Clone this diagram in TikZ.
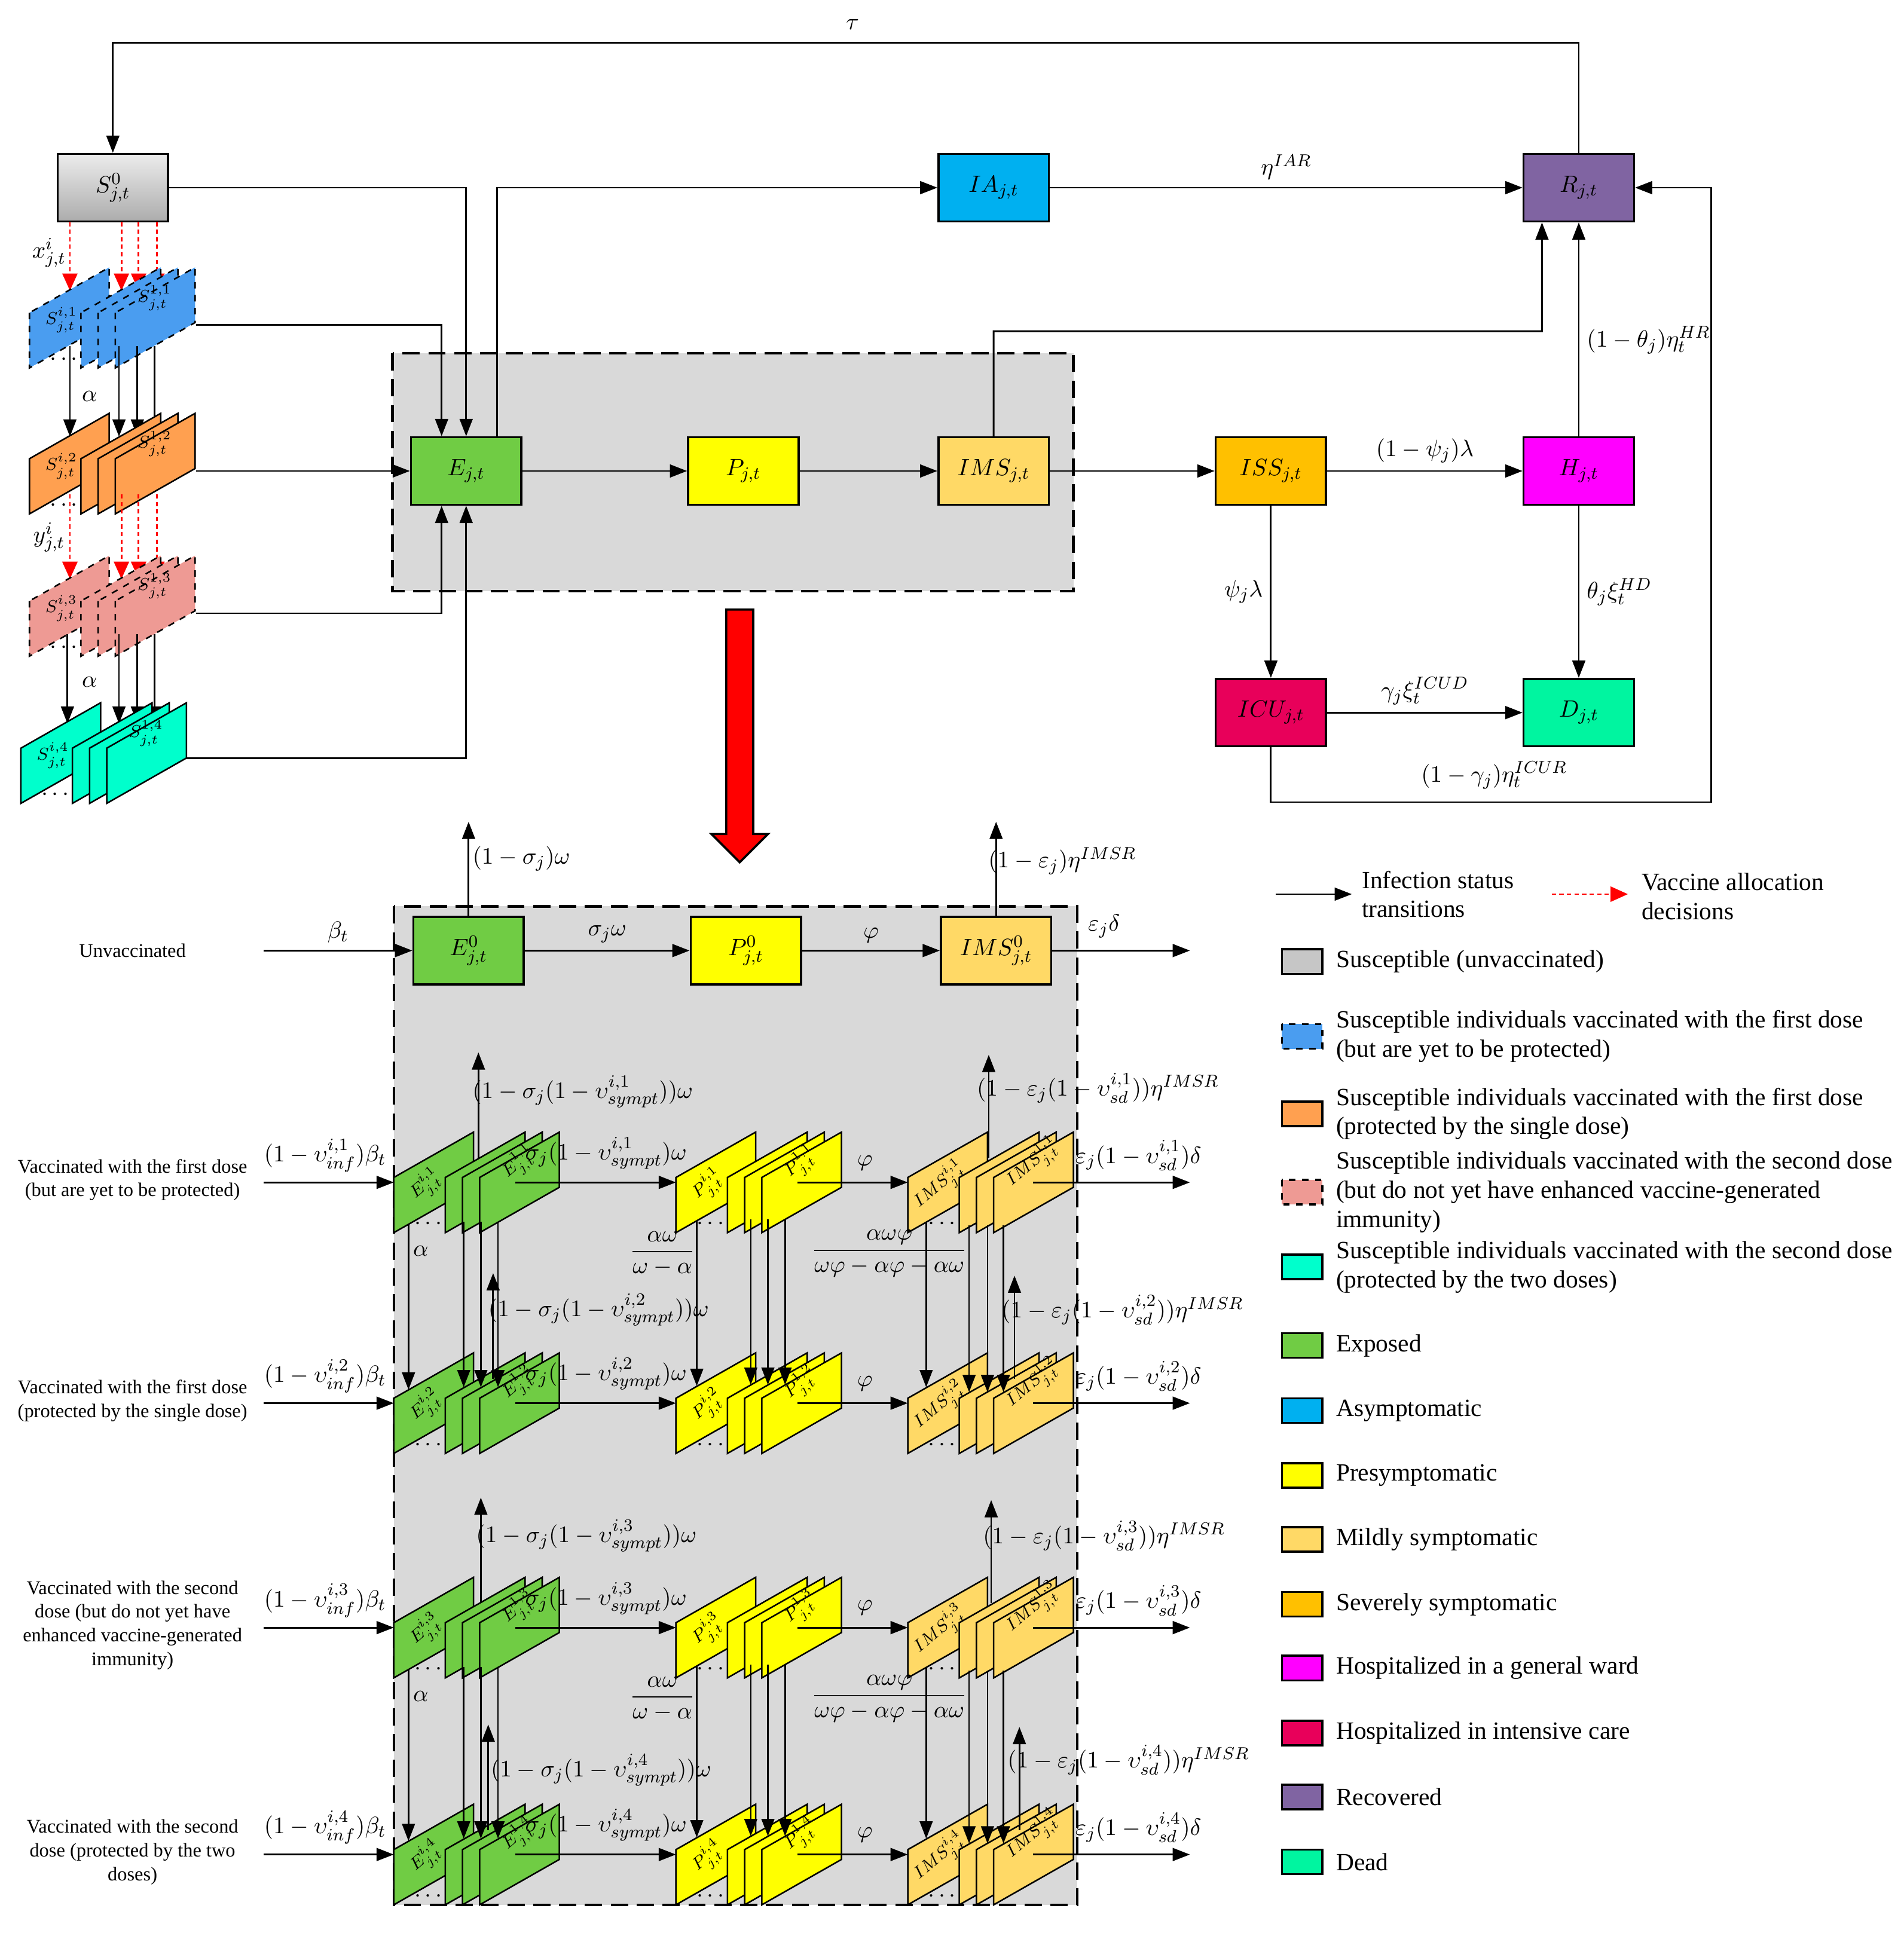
\documentclass[tikz,border=0pt]{standalone}
\usepackage{fontspec}
\setmainfont{Liberation Serif}
\usetikzlibrary{arrows.meta}
\definecolor{cG}{HTML}{70CC44}
\definecolor{cB}{HTML}{4A9DF0}
\definecolor{cO}{HTML}{FFA050}
\definecolor{cPk}{HTML}{EE9A94}
\definecolor{cC}{HTML}{00FFCC}
\definecolor{cY}{HTML}{FFFF00}
\definecolor{cM}{HTML}{FFD966}
\definecolor{cS}{HTML}{FFC000}
\definecolor{cIA}{HTML}{00B0F0}
\definecolor{cR}{HTML}{8064A2}
\definecolor{cH}{HTML}{FF00FF}
\definecolor{cICU}{HTML}{E8005A}
\definecolor{cD}{HTML}{00F5A0}
\definecolor{cBg}{HTML}{D9D9D9}
\tikzset{
 box/.style={draw,line width=1pt,minimum width=1.8cm,minimum height=1.1cm,inner sep=1pt},
 arr/.style={line width=0.8pt,-{Triangle[length=8pt,width=6pt]}},
 vac/.style={red,line width=0.8pt,dash pattern=on 2pt off 1.5pt,-{Triangle[length=8pt,width=7pt]}},
 region/.style={fill=cBg,line width=1.2pt,dash pattern=on 8pt off 4pt},
 sw/.style={draw,line width=1pt},
 lg/.style={anchor=west,align=left,font=\fontsize{11.5}{13.5}\selectfont},
 rl/.style={align=center,font=\fontsize{9}{11}\selectfont},
 pl/.style={line width=0.7pt},
 sl/.style={inner sep=0pt,font=\fontsize{8.5}{10}\selectfont}
}
% stack of parallelograms: x0, yc, fill, style, first label, last label, rotate
\newcommand{\pstk}[7]{%
 \draw[pl,#4,fill=#3] (#1,#2-2) -- (#1,#2+43) -- (#1+65,#2+6) -- (#1+65,#2-39) -- cycle;
 \node[sl,rotate=#7] at (#1+26,#2+4) {#5};
 \foreach \o in {42,56,70}{\draw[pl,#4,fill=#3] (#1+\o,#2-2) -- (#1+\o,#2+43) -- (#1+\o+65,#2+6) -- (#1+\o+65,#2-39) -- cycle;}
 \node[sl,rotate=#7] at (#1+102,#2-14) {#6};
 \node[inner sep=0pt] at (#1+28,#2+36) {$\cdots$};
}
\begin{document}
\begin{tikzpicture}[x=0.02cm,y=-0.02cm,font=\fontsize{11}{13}\selectfont]
\useasboundingbox (0,0) rectangle (1552,1576);
% ---------- top part ----------
\draw[region] (320,288) rectangle (875,482);
\node[box,top color=gray!15,bottom color=gray!65] (S0) at (92,153) {$S^{0}_{j,t}$};
\node[box,fill=cIA] (IA) at (810,153) {$IA_{j,t}$};
\node[box,fill=cR] (R) at (1287,153) {$R_{j,t}$};
\node[box,fill=cG] (E) at (380,384) {$E_{j,t}$};
\node[box,fill=cY] (P) at (606,384) {$P_{j,t}$};
\node[box,fill=cM] (IMS) at (810,384) {$IMS_{j,t}$};
\node[box,fill=cS] (ISS) at (1036,384) {$ISS_{j,t}$};
\node[box,fill=cH] (H) at (1287,384) {$H_{j,t}$};
\node[box,fill=cICU] (ICU) at (1036,581) {$ICU_{j,t}$};
\node[box,fill=cD] (D) at (1287,581) {$D_{j,t}$};

\draw[arr] (R.north) -- (1287,35) -- (92,35) -- (S0.north);
\node at (695,20) {$\tau$};
\draw[arr] (S0.east) -| (E.north);
\draw[arr] ([xshift=0.5cm]E.north) |- (IA.west);
\draw[arr] (IA) -- node[above,pos=0.5]{$\eta^{IAR}$} (R);
\draw[arr] (IMS.north) -- (810,270) -- (1257,270) -- ([xshift=-0.6cm]R.south);
\draw[arr] (H) -- node[right,pos=0.45]{$(1-\theta_j)\eta_t^{HR}$} (R);
\draw[arr] (ICU.south) -- (1036,654) -- (1395,654) -- (1395,153) -- (R.east);
\node at (1218,632) {$(1-\gamma_j)\eta_t^{ICUR}$};
\draw[arr] (E) -- (P);
\draw[arr] (P) -- (IMS);
\draw[arr] (IMS) -- (ISS);
\draw[arr] (ISS) -- node[above]{$(1-\psi_j)\lambda$} (H);
\draw[arr] (ISS) -- node[left]{$\psi_j\lambda$} (ICU);
\draw[arr] (H) -- node[right]{$\theta_j\xi_t^{HD}$} (D);
\draw[arr] (ICU) -- node[above]{$\gamma_j\xi_t^{ICUD}$} (D);

% left stacks
\draw[vac] (57,181) -- (57,237);
\draw[vac] (99,181) -- (99,237);
\draw[vac] (113,181) -- (113,237);
\draw[vac] (128,181) -- (128,237);
\node at (40,206) {$x^{i}_{j,t}$};
\pstk{24}{257}{cB}{dashed}{$S^{i,1}_{j,t}$}{$S^{1,1}_{j,t}$}{0}
\draw[arr] (57,282) -- (57,356);
\draw[arr] (97,282) -- (97,356);
\draw[arr] (112,282) -- (112,356);
\draw[arr] (126,282) -- (126,356);
\node at (73,323) {$\alpha$};
\pstk{24}{376}{cO}{}{$S^{i,2}_{j,t}$}{$S^{1,2}_{j,t}$}{0}
\draw[vac] (57,403) -- (57,472);
\draw[vac] (99,403) -- (99,472);
\draw[vac] (113,403) -- (113,472);
\draw[vac] (128,403) -- (128,472);
\node at (40,438) {$y^{i}_{j,t}$};
\pstk{24}{492}{cPk}{dashed}{$S^{i,3}_{j,t}$}{$S^{1,3}_{j,t}$}{0}
\draw[arr] (55,517) -- (55,590);
\draw[arr] (97,517) -- (97,590);
\draw[arr] (112,517) -- (112,590);
\draw[arr] (126,517) -- (126,590);
\node at (73,556) {$\alpha$};
\pstk{17}{612}{cC}{}{$S^{i,4}_{j,t}$}{$S^{1,4}_{j,t}$}{0}
\coordinate (b1) at (160,265);
\coordinate (b2) at (160,384);
\coordinate (b3) at (160,500);
\coordinate (b4) at (152,618);
\draw[arr] (b1) -| ([xshift=-0.4cm]E.north);
\draw[arr] (b2) -- (E.west);
\draw[arr] (b3) -| ([xshift=-0.4cm]E.south);
\draw[arr] (b4) -| (E.south);

% big red arrow
\draw[fill=red,line width=1pt] (592,497) -- (614,497) -- (614,680) -- (626,680) -- (603,703) -- (580,680) -- (592,680) -- cycle;

% ---------- bottom part ----------
\draw[region] (321,739) rectangle (878,1553);
\node[box,fill=cG] (E0) at (382,775) {$E^{0}_{j,t}$};
\node[box,fill=cY] (P0) at (608,775) {$P^{0}_{j,t}$};
\node[box,fill=cM] (I0) at (812,775) {$IMS^{0}_{j,t}$};
\node[rl] (u0) at (108,775) {Unvaccinated};
\coordinate (in0) at (215,775);
\coordinate (out0) at (970,775);
\draw[arr] (in0) -- node[above]{$\beta_t$} (E0);
\draw[arr] (E0) -- node[above]{$\sigma_j\omega$} (P0);
\draw[arr] (P0) -- node[above]{$\varphi$} (I0);
\draw[arr] (I0) -- (out0);
\node at (900,755) {$\varepsilon_j\delta$};
\draw[arr] (E0.north) -- (382,670);
\node at (425,700) {$(1-\sigma_j)\omega$};
\draw[arr] (I0.north) -- (812,670);
\node at (866,702) {$(1-\varepsilon_j)\eta^{IMSR}$};

% rows
\foreach \k/\yc/\eu/\eul/\eulx/\iu/\iul/\iulx in {1/962/390/890/475/806/887/895, 2/1142/402/1068/488/827/1068/915, 3/1325/392/1252/478/808/1252/900, 4/1510/398/1443/490/831/1435/920}{
 \draw[arr] (215,\yc+2) -- (321,\yc+2);
 \node at (265,\yc-20) {$(1-\upsilon^{i,\k}_{inf})\beta_t$};
 \pstk{321}{\yc}{cG}{}{$E^{i,\k}_{j,t}$}{$E^{1,\k}_{j,t}$}{40}
 \pstk{551}{\yc}{cY}{}{$P^{i,\k}_{j,t}$}{$P^{1,\k}_{j,t}$}{40}
 \pstk{740}{\yc}{cM}{}{$IMS^{i,\k}_{j,t}$}{$IMS^{1,\k}_{j,t}$}{40}
 \draw[arr] (420,\yc+2) -- (551,\yc+2);
 \node at (494,\yc-22) {$\sigma_j(1-\upsilon^{i,\k}_{sympt})\omega$};
 \draw[arr] (650,\yc+2) -- (740,\yc+2);
 \node at (705,\yc-14) {$\varphi$};
 \draw[arr] (842,\yc+2) -- (970,\yc+2);
 \node at (928,\yc-20) {$\varepsilon_j(1-\upsilon^{i,\k}_{sd})\delta$};
 \draw[arr] (\eu,\yc-18) -- (\eu,\yc-104);
 \node at (\eulx,\eul) {$(1-\sigma_j(1-\upsilon^{i,\k}_{sympt}))\omega$};
 \draw[arr] (\iu,\yc-18) -- (\iu,\yc-102);
 \node at (\iulx,\iul) {$(1-\varepsilon_j(1-\upsilon^{i,\k}_{sd}))\eta^{IMSR}$};
}
% vertical arrows between rows
\foreach \a/\b in {962/1142, 1325/1510}{
 \draw[arr,line width=0.7pt] (333,\a+36) -- (333,\b-9);
 \foreach \x in {378,392,406}{\draw[arr,line width=0.7pt] (\x,\a+34) -- (\x,\b-11);}
 \draw[arr,line width=0.7pt] (568,\a+33) -- (568,\b-12);
 \foreach \x in {612,626,640}{\draw[arr,line width=0.7pt] (\x,\a+32) -- (\x,\b-13);}
 \draw[arr,line width=0.7pt] (755,\a+34) -- (755,\b-11);
 \foreach \x in {790,805,818}{\draw[arr,line width=0.7pt] (\x,\a+37) -- (\x,\b-7);}
 \node at (343,\a+58) {$\alpha$};
 \node at (540,\a+60) {$\displaystyle\frac{\alpha\omega}{\omega-\alpha}$};
 \node at (725,\a+60) {$\displaystyle\frac{\alpha\omega\varphi}{\omega\varphi-\alpha\varphi-\alpha\omega}$};
}
\node[rl] at (108,962) {Vaccinated with the first dose\\(but are yet to be protected)};
\node[rl] at (108,1142) {Vaccinated with the first dose\\(protected by the single dose)};
\node[rl] at (108,1325) {Vaccinated with the second\\dose (but do not yet have\\enhanced vaccine-generated\\immunity)};
\node[rl] at (108,1510) {Vaccinated with the second\\dose (protected by the two\\doses)};

% ---------- legend ----------
\coordinate (l1a) at (1040,729); \coordinate (l1b) at (1102,729);
\draw[arr] (l1a) -- (l1b);
\node[lg] at (1104,729) {Infection status\\transitions};
\coordinate (l2a) at (1265,729); \coordinate (l2b) at (1327,729);
\draw[vac] (l2a) -- (l2b);
\node[lg] at (1332,731) {Vaccine allocation\\decisions};
\foreach \y/\c/\s/\t in {
 784/gray!45//{Susceptible (unvaccinated)},
 845/cB/dashed/{Susceptible individuals vaccinated with the first dose\\(but are yet to be protected)},
 908/cO//{Susceptible individuals vaccinated with the first dose\\(protected by the single dose)},
 972/cPk/dashed/{Susceptible individuals vaccinated with the second dose\\(but do not yet have enhanced vaccine-generated\\immunity)},
 1033/cC//{Susceptible individuals vaccinated with the second dose\\(protected by the two doses)},
 1097/cG//{Exposed},
 1150/cIA//{Asymptomatic},
 1203/cY//{Presymptomatic},
 1255/cM//{Mildly symptomatic},
 1308/cS//{Severely symptomatic},
 1360/cH//{Hospitalized in a general ward},
 1413/cICU//{Hospitalized in intensive care},
 1465/cR//{Recovered},
 1518/cD//{Dead}}{
 \draw[sw,\s,fill=\c] (1045,\y-10) rectangle (1078,\y+10);
 \node[lg] at (1083,\y) {\t};
}
\end{tikzpicture}
\end{document}
